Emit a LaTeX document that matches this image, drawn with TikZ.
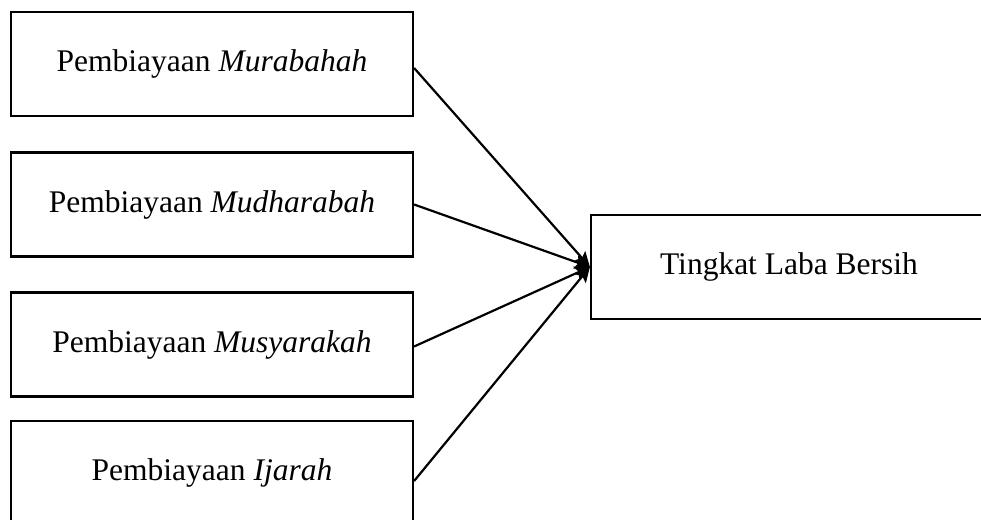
\documentclass[tikz,border=0pt]{standalone}
\usepackage{fontspec}
\setmainfont{Liberation Serif}
\usetikzlibrary{arrows.meta,positioning}
\begin{document}
\begin{tikzpicture}[x=1pt,y=-1pt,
  varbox/.style={draw, line width=2.2pt, minimum width=402pt, minimum height=104pt,
    inner sep=0pt, font=\fontsize{31.5}{36}\selectfont},
  outbox/.style={varbox, minimum width=396pt},
  link/.style={line width=2.2pt, -{Stealth[length=15pt,width=14pt,inset=3pt]}}]
\useasboundingbox (0,0) rectangle (981,519);
\clip (0,0) rectangle (981,519);
% independent variables
\node[varbox] (b1) at (212,64) {Pembiayaan \textit{Murabahah}};
\node[varbox] (b2) at (212,204.5) {Pembiayaan \textit{Mudharabah}};
\node[varbox] (b3) at (212,344.5) {Pembiayaan \textit{Musyarakah}};
\node[varbox] (b4) at (212,473) {Pembiayaan \textit{Ijarah}};
% dependent variable
\node[outbox] (y) at (789,267) {Tingkat Laba Bersih};
% influence paths
\draw[link] ([yshift=-4pt]b1.east) -- (y.west);
\draw[link] (b2.east) -- (y.west);
\draw[link] ([yshift=-2pt]b3.east) -- (y.west);
\draw[link] ([yshift=-8pt]b4.east) -- (y.west);
\end{tikzpicture}
\end{document}
